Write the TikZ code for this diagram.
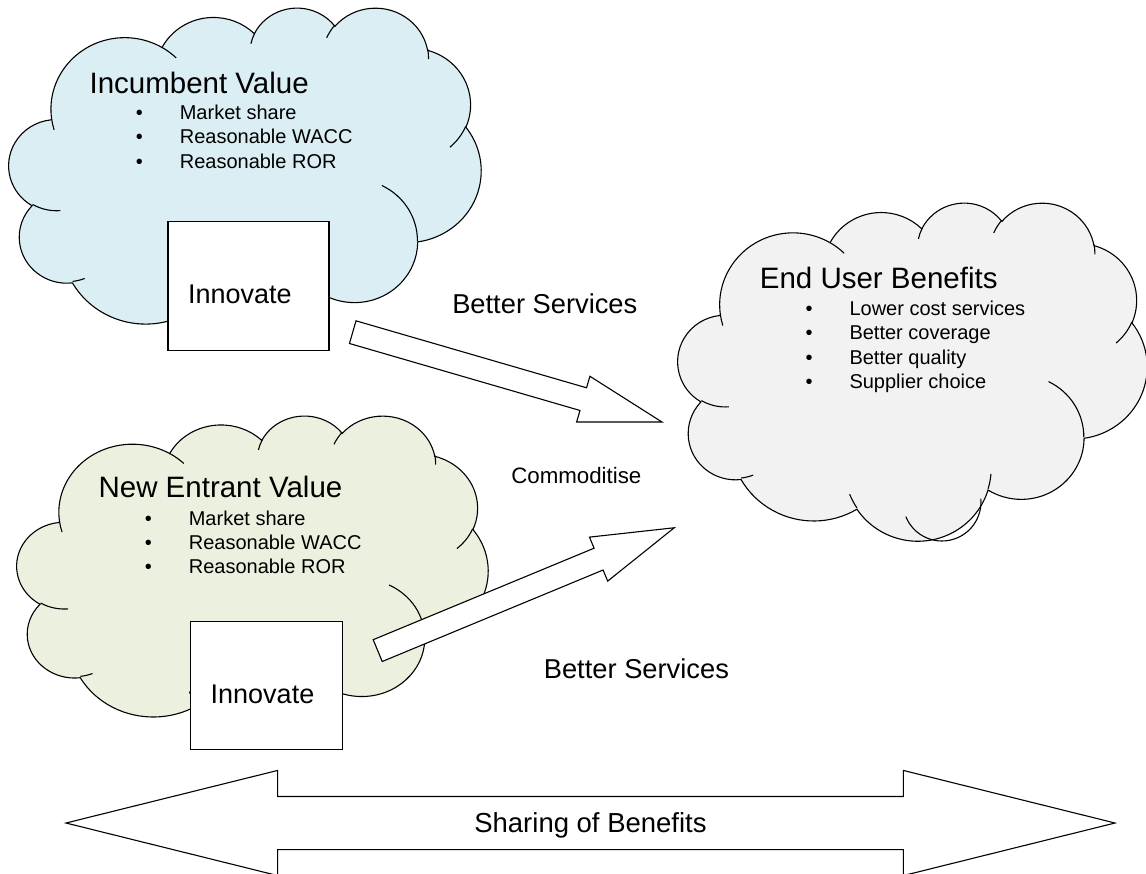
\documentclass[tikz,border=0pt]{standalone}
\usepackage{fontspec}
\setmainfont{Liberation Sans}
\usetikzlibrary{shapes.arrows}

\definecolor{incumbentfill}{HTML}{DAEEF3}
\definecolor{entrantfill}{HTML}{EBF1DE}
\definecolor{userfill}{HTML}{F2F2F2}

% one bump of a cloud, angles taken on the ellipse itself
\newcommand\bump[4]{arc[x radius=#1, y radius=#2,
  start angle={atan2((#1)*sin(#3),(#2)*cos(#3))},
  delta angle={mod(atan2((#1)*sin((#3)+(#4)),(#2)*cos((#3)+(#4)))-atan2((#1)*sin(#3),(#2)*cos(#3))+720,360)}]}

% cloud in a 432 x 432 box, filled with #1
\newcommand\drawcloud[1]{%
  \draw[fill=#1] (39,143.7)
    \bump{67.53}{91.90}{-190.4875}{123.7805}
    \bump{53.33}{72.67}{-144.1024}{89.9452}
    \bump{43.65}{59.45}{-145.8079}{99.7230}
    \bump{48.57}{65.95}{-130.9861}{117.2417}
    \bump{53.33}{72.73}{-78.7089}{109.0269}
    \bump{67.75}{92.20}{-46.2673}{130.2690}
    \bump{57.85}{78.67}{0.6250}{114.0333}
    \bump{67.52}{92.15}{22.4516}{115.1726}
    \bump{77.20}{105.43}{66.2426}{75.7110}
    \bump{43.60}{59.18}{-274.9421}{146.7356}
    \bump{43.45}{59.45}{-246.8285}{152.5189} -- cycle;
  % inner folds
  \draw (46.93,261.77) \bump{43.45}{59.45}{86.7420}{26.4295}
    (69.28,348.99) \bump{43.60}{59.18}{73.6105}{11.4475}
    (164.78,390.90) \bump{67.52}{92.15}{137.6242}{14.0811}
    (288.27,347.51) \bump{67.52}{92.15}{6.4533}{15.9984}
    (341.29,229.54) \bump{57.85}{78.67}{-70.2924}{70.9174}
    (417.98,153.54) \bump{53.33}{72.73}{30.3180}{27.7515}
    (383.24,54.26) \bump{48.57}{65.95}{-13.7443}{14.8640}
    (290.78,39.52) \bump{48.57}{65.95}{-149.1815}{18.1954}
    (221.41,47.20) \bump{43.65}{59.45}{-163.4943}{17.6864}
    (140.00,51.92) \bump{67.53}{91.90}{-66.7070}{12.3194}
    (41.27,157.89) \bump{67.53}{91.90}{157.6544}{11.8582};
}

\begin{document}
\begin{tikzpicture}[x=1pt, y=-1pt, line width=1.1pt,
  heading/.style={anchor=base west, inner sep=0pt, font=\fontsize{29.5}{35}\selectfont},
  listitem/.style={anchor=base west, inner sep=0pt, font=\fontsize{20}{24}\selectfont},
  tag/.style={anchor=base west, inner sep=0pt, font=\fontsize{27.3}{33}\selectfont},
  box/.style={draw, fill=white, minimum height=129pt, inner xsep=20pt, inner ysep=0pt,
    text height=40pt, text depth=5pt, align=left, font=\fontsize{27}{32}\selectfont},
  push/.style={single arrow, draw, fill=white, anchor=tail, inner sep=0pt,
    text height=11.25pt, text depth=11.25pt,
    minimum height=322pt, minimum width=46.5pt,
    single arrow head extend=12pt, single arrow tip angle=32.4}]
\useasboundingbox (0,0) rectangle (1146,873);

% clouds
\begin{scope}[xshift=9pt, yshift=-7pt, x=1.09259pt, y=-0.77778pt]
\drawcloud{incumbentfill}
\end{scope}
\begin{scope}[xshift=678pt, yshift=-202pt, x=1.08565pt, y=-0.78241pt]
\drawcloud{userfill}
\end{scope}
\draw (905.8,516.6) arc[radius=39, start angle=158, end angle=-5];
\begin{scope}[xshift=17pt, yshift=-415pt, x=1.09028pt, y=-0.74074pt]
\drawcloud{entrantfill}
\end{scope}

% incumbent
\node[heading] (inc title) at (89,93) {Incumbent Value};
\foreach \entry [count=\i] in {Market share, Reasonable WACC, Reasonable ROR}
  \node[listitem] (inc item \i) at (135.3,{119.3+24.4*(\i-1)})
    {\makebox[44pt][l]{\textbullet}\entry};
\node[box, text width=121pt] (inc innovate) at (248.5,286.2) {Innovate};

% end user
\node[heading] (user title) at (759.3,288.3) {End User Benefits};
\foreach \entry [count=\i] in {Lower cost services, Better coverage, Better quality, Supplier choice}
  \node[listitem] (user item \i) at (805,{315+24.5*(\i-1)})
    {\makebox[44pt][l]{\textbullet}\entry};

% new entrant
\node[heading] (ne title) at (98,497) {New Entrant Value};
\foreach \entry [count=\i] in {Market share, Reasonable WACC, Reasonable ROR}
  \node[listitem] (ne item \i) at (144.3,{525+24.3*(\i-1)})
    {\makebox[44pt][l]{\textbullet}\entry};
\node[box, text width=112pt, minimum height=128pt] (ne innovate) at (266.7,685.9) {Innovate};

% block arrows
\coordinate (inc out) at (352.2,332);
\coordinate (ne out) at (377.2,650.8);
\node[push, rotate=-16.2] (inc push) at (inc out) {};
\node[push, rotate=22.5, minimum height=321pt] (ne push) at (ne out) {};

\node[tag] (inc services) at (451.7,313.3) {Better Services};
\node[tag, font=\fontsize{22.3}{27}\selectfont] (commoditise) at (510.7,483.3) {Commoditise};
\node[tag] (ne services) at (543.3,678.3) {Better Services};

% sharing
\node[double arrow, draw, fill=white, inner sep=0pt, text height=35pt, text depth=17pt,
  minimum height=1049pt, minimum width=104pt, double arrow head extend=26pt,
  double arrow tip angle=27.9, font=\fontsize{27.5}{33}\selectfont]
  (sharing) at (590.5,823) {Sharing of Benefits};
\end{tikzpicture}
\end{document}
